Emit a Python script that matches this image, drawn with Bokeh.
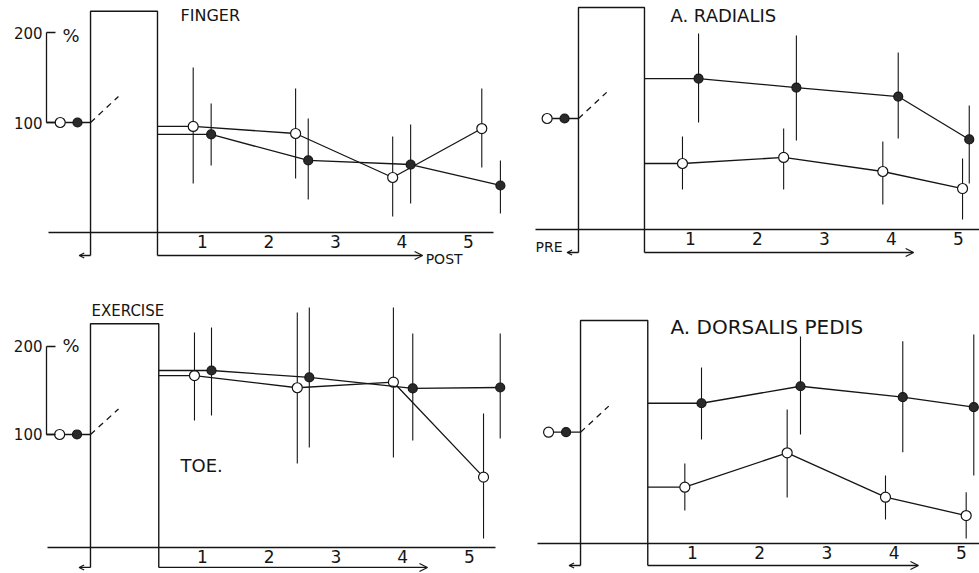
from bokeh.plotting import figure
from bokeh.layouts import column, row
from bokeh.models import LinearAxis, FixedTicker, Arrow, OpenHead, Range1d
from bokeh.core.properties import value
from bokeh.embed import file_html
from bokeh.resources import INLINE

# ---------------- data (x: hours after exercise as drawn, y: % of pre-exercise value) -------------
ticks_x = [1, 2, 3, 4, 5]
ticks_y = [100, 200]
pre_x_open = -1.14
pre_x_fill = -0.88
pre_y = 100

# FINGER
finger_open_x = [0.86, 2.40, 3.86, 5.20]
finger_open_y = [95.6, 87.8, 38.9, 93.3]
finger_open_lo = [32.2, 37.8, -4.4, 50.0]
finger_open_hi = [161.1, 137.8, 84.4, 137.8]
finger_fill_x = [1.13, 2.59, 4.13, 5.48]
finger_fill_y = [86.7, 57.8, 53.3, 30.0]
finger_fill_lo = [52.2, 14.4, 10.0, -1.1]
finger_fill_hi = [121.1, 104.4, 97.8, 57.8]

# A. RADIALIS
rad_open_x = [0.88, 2.39, 3.87, 5.06]
rad_open_y = [50.0, 56.7, 41.1, 22.2]
rad_open_lo = [21.1, 21.1, 4.4, -12.2]
rad_open_hi = [80.0, 88.9, 74.4, 55.6]
rad_fill_x = [1.12, 2.58, 4.10, 5.16]
rad_fill_y = [144.4, 134.4, 124.4, 76.7]
rad_fill_lo = [95.6, 75.6, 77.8, 27.8]
rad_fill_hi = [194.4, 192.2, 173.3, 114.4]

# TOE
toe_open_x = [0.88, 2.42, 3.86, 5.21]
toe_open_y = [167.0, 153.1, 159.4, 51.5]
toe_open_lo = [115.9, 67.0, 73.9, -18.2]
toe_open_hi = [215.9, 238.6, 244.3, 123.9]
toe_fill_x = [1.135, 2.60, 4.15, 5.46]
toe_fill_y = [172.7, 164.8, 152.3, 153.4]
toe_fill_lo = [121.6, 85.2, 93.2, 95.5]
toe_fill_hi = [221.6, 244.3, 214.8, 214.8]

# A. DORSALIS PEDIS
dp_open_x = [0.886, 2.408, 3.870, 5.070]
dp_open_y = [38.9, 77.1, 27.8, 7.4]
dp_open_lo = [13.0, 27.4, 3.0, -18.1]
dp_open_hi = [65.2, 125.2, 51.9, 33.3]
dp_fill_x = [1.134, 2.606, 4.127, 5.183]
dp_fill_y = [132.2, 151.1, 138.9, 127.8]
dp_fill_lo = [91.9, 97.4, 77.8, 51.9]
dp_fill_hi = [171.9, 206.3, 201.1, 208.6]

INK = "#151515"
FONT = "DejaVu Sans"


def panel(cfg):
    p = figure(width=cfg["w"], height=cfg["h"], x_range=Range1d(*cfg["xr"]),
               y_range=Range1d(*cfg["yr"]), x_axis_type=None, y_axis_type=None,
               toolbar_location=None, output_backend="svg", min_border=0)
    p.outline_line_color = None
    p.background_fill_color = "white"
    p.border_fill_color = "white"

    bl, br, bt, ay = cfg["box_l"], cfg["box_r"], cfg["box_t"], cfg["arrow_y"]

    # x axis drawn as the baseline, with the hour labels
    xa = LinearAxis(ticker=FixedTicker(ticks=ticks_x), fixed_location=cfg["base_y"],
                    bounds=cfg["base_x"])
    xa.major_tick_in = 0
    xa.major_tick_out = 0
    xa.minor_tick_in = 0
    xa.minor_tick_out = 0
    xa.major_label_standoff = 3
    xa.major_label_text_font = FONT
    xa.major_label_text_font_size = "17px"
    xa.major_label_text_color = INK
    xa.axis_line_color = INK
    xa.axis_line_width = 1.4
    p.add_layout(xa, "below")

    # y bracket axis (100 - 200 %)
    if cfg.get("bracket") is not None:
        ya = LinearAxis(ticker=FixedTicker(ticks=ticks_y), fixed_location=cfg["bracket"],
                        bounds=(100, 200))
        ya.major_tick_in = 9
        ya.major_tick_out = 0
        ya.minor_tick_in = 0
        ya.minor_tick_out = 0
        ya.major_label_standoff = 4
        ya.major_label_text_font = FONT
        ya.major_label_text_font_size = "15px"
        ya.major_label_text_color = INK
        ya.axis_line_color = INK
        ya.axis_line_width = 1.3
        ya.major_tick_line_color = INK
        ya.major_tick_line_width = 1.3
        p.add_layout(ya, "left")

    # exercise box with PRE / POST arrows
    p.line([bl, bl, br, br], [ay, bt, bt, ay], line_color=INK, line_width=1.4)
    p.add_layout(Arrow(end=OpenHead(size=8, line_color=INK, line_width=1.2),
                       x_start=br, y_start=ay, x_end=cfg["tip"], y_end=ay,
                       line_color=INK, line_width=1.3))
    p.add_layout(Arrow(end=OpenHead(size=5, line_color=INK, line_width=1.2),
                       x_start=bl, y_start=ay, x_end=bl - 0.17, y_end=ay,
                       line_color=INK, line_width=1.3))

    # pre values
    x_start_pre = cfg["bracket"] if cfg.get("bracket") is not None else pre_x_open
    p.line([x_start_pre, bl], [pre_y, pre_y], line_color=INK, line_width=1.3)
    p.line([bl, bl + 0.42], [pre_y, pre_y + 29], line_color=INK, line_width=1.3,
           line_dash="6 5")
    p.scatter([pre_x_open], [pre_y], size=10, marker="circle", fill_color="white",
              line_color=INK, line_width=1.2)
    p.scatter([pre_x_fill], [pre_y], size=9, marker="circle", fill_color="#2a2a2a",
              line_color=INK, line_width=1.2)

    # post series
    for key, fill in (("open", "white"), ("fill", "#2a2a2a")):
        xs, ys, lo, hi = cfg[key]
        p.segment(x0=xs, y0=lo, x1=xs, y1=hi, line_color=INK, line_width=1.1)
        p.line([br] + list(xs), [ys[0]] + list(ys), line_color=INK, line_width=1.3)
        p.scatter(xs, ys, size=10 if fill == "white" else 9, marker="circle",
                  fill_color=fill, line_color=INK, line_width=1.2)

    for (tx, ty, txt, fs) in cfg["texts"]:
        p.text([tx], [ty], text=[txt], text_font=value(FONT), text_font_size=fs,
               text_color=INK, text_baseline="middle", text_align="left")
    return p


tl = panel(dict(w=515, h=280, xr=(-2.038, 5.707), yr=(-75.6, 235.6),
                box_l=-0.684, box_r=0.323, box_t=223.7, arrow_y=-47.8, tip=4.31,
                base_y=-22.2, base_x=(-1.316, 5.376), bracket=-1.346,
                open=(finger_open_x, finger_open_y, finger_open_lo, finger_open_hi),
                fill=(finger_fill_x, finger_fill_y, finger_fill_lo, finger_fill_hi),
                texts=[(0.67, 218.9, "FINGER", "16px"), (-1.105, 196.7, "%", "18px"),
                       (4.356, -52.2, "POST", "14px")]))

tr = panel(dict(w=464, h=280, xr=(-1.612, 5.313), yr=(-80.0, 231.1),
                box_l=-0.672, box_r=0.313, box_t=223.3, arrow_y=-48.9, tip=4.33,
                base_y=-23.3, base_x=(-1.313, 5.313), bracket=None,
                open=(rad_open_x, rad_open_y, rad_open_lo, rad_open_hi),
                fill=(rad_fill_x, rad_fill_y, rad_fill_lo, rad_fill_hi),
                texts=[(0.70, 214.4, "A. RADIALIS", "18px"), (-1.313, -43.3, "PRE", "14px")]))

bl_ = panel(dict(w=515, h=293, xr=(-2.026, 5.689), yr=(-58.0, 275.0),
                 box_l=-0.678, box_r=0.345, box_t=225.8, arrow_y=-51.1, tip=4.37,
                 base_y=-28.1, base_x=(-1.322, 5.39), bracket=-1.337,
                 open=(toe_open_x, toe_open_y, toe_open_lo, toe_open_hi),
                 fill=(toe_fill_x, toe_fill_y, toe_fill_lo, toe_fill_hi),
                 texts=[(-0.663, 239.8, "EXERCISE", "15px"), (-1.097, 201.0, "%", "18px"),
                        (0.67, 64.8, "TOE.", "18px")]))

br = panel(dict(w=464, h=293, xr=(-1.632, 5.268), yr=(-57.0, 268.6),
                box_l=-0.665, box_r=0.335, box_t=224.1, arrow_y=-48.1, tip=4.36,
                base_y=-23.3, base_x=(-1.305, 5.268), bracket=None,
                open=(dp_open_x, dp_open_y, dp_open_lo, dp_open_hi),
                fill=(dp_fill_x, dp_fill_y, dp_fill_lo, dp_fill_hi),
                texts=[(0.673, 217.4, "A. DORSALIS  PEDIS", "20px")]))

layout = column(row(tl, tr), row(bl_, br))
open("out.html", "w").write(file_html(layout, INLINE))
